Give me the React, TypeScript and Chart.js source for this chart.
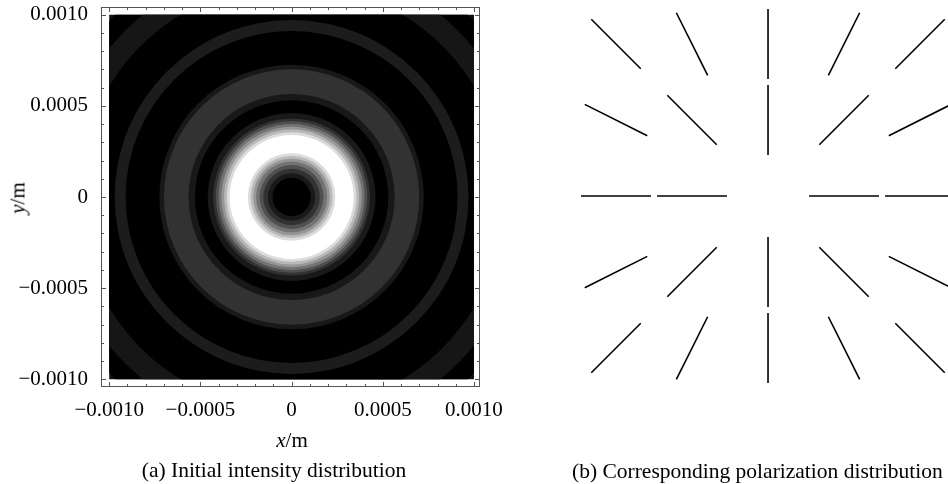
import React, { useEffect, useRef } from "react";
import { Chart, registerables } from "chart.js";

Chart.register(...registerables);

// ---------- (a) Initial intensity distribution ----------
// Contour bands of the intensity map: outer radius (m) and gray level, from the centre outward
const bandOuterRadius = [
  0.000105, 0.00013, 0.000155, 0.000175, 0.000195, 0.00021, 0.000225, 0.00024,
  0.00034, 0.000355, 0.00037, 0.000385, 0.0004, 0.000415, 0.00043, 0.00046,
  0.00053, 0.000565, 0.0007, 0.000725, 0.00091, 0.00097, 0.00117, 0.00129,
  0.00139, 0.0016,
];
const bandGray = [
  0, 25, 50, 80, 115, 150, 185, 220,
  255, 220, 185, 150, 115, 80, 50, 25,
  0, 24, 50, 24, 0, 28, 0, 22,
  0, 18,
];
const imageHalfWidth = 0.001;

const xTickValues = [-0.001, -0.0005, 0, 0.0005, 0.001];
const xTickLabels = ["\u22120.0010", "\u22120.0005", "0", "0.0005", "0.0010"];
const yTickValues = [-0.001, -0.0005, 0, 0.0005, 0.001];
const yTickLabels = ["\u22120.0010", "\u22120.0005", "0", "0.0005", "0.0010"];
const minorTickStep = 0.0001;

// ---------- (b) Corresponding polarization distribution ----------
const polX = [-2, -1, 0, 1, 2, -2, -1, 0, 1, 2, -2, -1, 1, 2, -2, -1, 0, 1, 2, -2, -1, 0, 1, 2];
const polY = [2, 2, 2, 2, 2, 1, 1, 1, 1, 1, 0, 0, 0, 0, -1, -1, -1, -1, -1, -2, -2, -2, -2, -2];
const polAngleDeg = [
  135, 116.6, 90, 63.4, 45,
  153.4, 135, 90, 45, 26.6,
  0, 0, 0, 0,
  26.6, 45, 90, 135, 153.4,
  45, 63.4, 90, 116.6, 135,
];
const polSegmentLength = 0.92;

const FONT = "'Liberation Serif', 'Times New Roman', serif";

const frameTicksPlugin = {
  id: "frameTicks",
  beforeDatasetsDraw(chart: any) {
    const { ctx, scales } = chart;
    const x1 = scales.x.getPixelForValue(-imageHalfWidth);
    const x2 = scales.x.getPixelForValue(imageHalfWidth);
    const y1 = scales.y.getPixelForValue(imageHalfWidth);
    const y2 = scales.y.getPixelForValue(-imageHalfWidth);
    ctx.save();
    ctx.beginPath();
    ctx.rect(x1, y1, x2 - x1, y2 - y1);
    ctx.clip();
  },
  afterDatasetsDraw(chart: any) {
    chart.ctx.restore();
  },
  afterDraw(chart: any) {
    const { ctx, chartArea, scales } = chart;
    const { left, right, top, bottom } = chartArea;
    ctx.save();
    ctx.strokeStyle = "#555";
    ctx.lineWidth = 1;
    ctx.strokeRect(left + 0.5, top + 0.5, right - left - 1, bottom - top - 1);
    ctx.beginPath();
    const n = Math.round((2 * imageHalfWidth) / minorTickStep);
    for (let i = 0; i <= n; i++) {
      const v = -imageHalfWidth + i * minorTickStep;
      const major = i % 5 === 0;
      const len = major ? 5 : 3;
      const px = Math.round(scales.x.getPixelForValue(v)) + 0.5;
      const py = Math.round(scales.y.getPixelForValue(v)) + 0.5;
      ctx.moveTo(px, bottom);
      ctx.lineTo(px, bottom - len);
      ctx.moveTo(px, top);
      ctx.lineTo(px, top + len);
      ctx.moveTo(left, py);
      ctx.lineTo(left + len, py);
      ctx.moveTo(right, py);
      ctx.lineTo(right - len, py);
    }
    ctx.stroke();
    ctx.restore();
  },
};

export default function App() {
  const leftRef = useRef<HTMLCanvasElement>(null);
  const rightRef = useRef<HTMLCanvasElement>(null);

  useEffect(() => {
    Chart.defaults.font.family = FONT;
    // draw the widest band first, the innermost last
    const order = bandOuterRadius.map((_, i) => i).reverse();
    const left = new Chart(leftRef.current as HTMLCanvasElement, {
      type: "bubble",
      data: {
        datasets: [
          {
            data: order.map(() => ({ x: 0, y: 0, r: 0 })),
            backgroundColor: order.map((i) => `rgb(${bandGray[i]},${bandGray[i]},${bandGray[i]})`),
            borderWidth: 0,
          } as any,
        ],
      },
      options: {
        responsive: false,
        animation: false,
        events: [],
        layout: { autoPadding: false, padding: { top: 7, right: 80, bottom: 0, left: 0 } },
        plugins: { legend: { display: false }, tooltip: { enabled: false } },
        scales: {
          x: {
            type: "linear",
            min: -0.001045,
            max: 0.001033,
            grid: { display: false, drawTicks: false },
            border: { display: false },
            afterBuildTicks: (s: any) => {
              s.ticks = xTickValues.map((v) => ({ value: v }));
            },
            afterFit: (s: any) => {
              s.height = 97;
              s.paddingLeft = 0;
              s.paddingRight = 0;
            },
            ticks: {
              autoSkip: false,
              maxRotation: 0,
              padding: 11,
              color: "#000",
              font: { size: 21, family: FONT },
              callback: (v: any) => xTickLabels[xTickValues.findIndex((t) => Math.abs(t - v) < 1e-9)],
            },
          },
          y: {
            type: "linear",
            min: -0.001042,
            max: 0.001042,
            grid: { display: false, drawTicks: false },
            border: { display: false },
            afterBuildTicks: (s: any) => {
              s.ticks = yTickValues.map((v) => ({ value: v }));
            },
            afterFit: (s: any) => {
              s.width = 101;
              s.paddingTop = 0;
              s.paddingBottom = 0;
            },
            ticks: {
              autoSkip: false,
              padding: 13,
              color: "#000",
              font: { size: 21, family: FONT },
              callback: (v: any) => yTickLabels[yTickValues.findIndex((t) => Math.abs(t - v) < 1e-9)],
            },
          },
        },
      },
      plugins: [frameTicksPlugin],
    });
    // band radii converted to pixels through the chart's own x scale
    const sx: any = left.scales.x;
    left.data.datasets[0].data = order.map((i) => ({
      x: 0,
      y: 0,
      r: Math.abs(sx.getPixelForValue(bandOuterRadius[i]) - sx.getPixelForValue(0)),
    })) as any;
    left.update();

    const half = polSegmentLength / 2;
    const right = new Chart(rightRef.current as HTMLCanvasElement, {
      type: "scatter",
      data: {
        datasets: polX.map((x, i) => {
          const a = (polAngleDeg[i] * Math.PI) / 180;
          const dx = half * Math.cos(a);
          const dy = half * Math.sin(a);
          return {
            data: [
              { x: x - dx, y: polY[i] - dy },
              { x: x + dx, y: polY[i] + dy },
            ],
            showLine: true,
            borderColor: "#000",
            borderWidth: 1.6,
            pointRadius: 0,
            fill: false,
          };
        }),
      },
      options: {
        responsive: false,
        animation: false,
        events: [],
        layout: { padding: 0 },
        plugins: { legend: { display: false }, tooltip: { enabled: false } },
        scales: {
          x: { type: "linear", display: false, min: -2.737, max: 2.368 },
          y: { type: "linear", display: false, min: -3.789, max: 2.579 },
        },
      },
    });

    return () => {
      left.destroy();
      right.destroy();
    };
  }, []);

  const text: React.CSSProperties = {
    position: "absolute",
    fontFamily: FONT,
    fontSize: 21,
    color: "#000",
    whiteSpace: "nowrap",
    lineHeight: 1,
  };

  return (
    <div
      style={{
        position: "fixed",
        left: 0,
        top: 0,
        width: 948,
        height: 484,
        background: "#fff",
        overflow: "hidden",
      }}
    >
      <canvas
        ref={leftRef}
        width={560}
        height={484}
        style={{ position: "absolute", left: 0, top: 0, width: 560, height: 484 }}
      />
      <canvas
        ref={rightRef}
        width={388}
        height={484}
        style={{ position: "absolute", left: 560, top: 0, width: 388, height: 484 }}
      />
      <div style={{ ...text, left: 292, top: 440, transform: "translate(-50%, -50%)" }}>
        <i>x</i>/m
      </div>
      <div style={{ ...text, left: 18, top: 198, transform: "translate(-50%, -50%) rotate(-90deg)" }}>
        <i>y</i>/m
      </div>
      <div style={{ ...text, fontSize: 21.5, left: 274, top: 471, transform: "translate(-50%, -50%)" }}>
        (a) Initial intensity distribution
      </div>
      <div style={{ ...text, fontSize: 21.5, left: 572, top: 472, transform: "translate(0, -50%)" }}>
        (b) Corresponding polarization distribution
      </div>
    </div>
  );
}
